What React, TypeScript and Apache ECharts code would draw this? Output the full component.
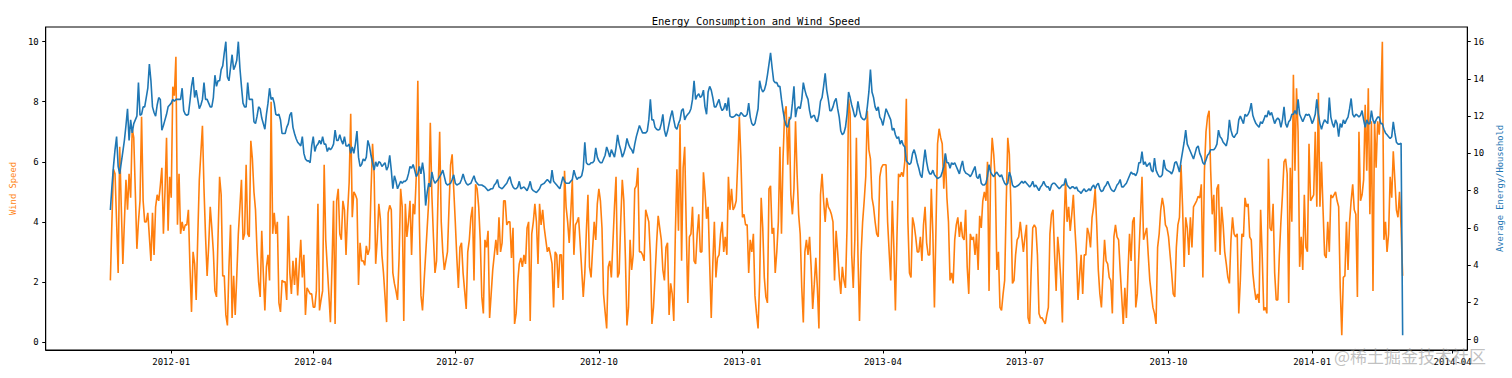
import React, { useEffect, useRef } from "react";
import * as echarts from "echarts";

// Daily observations starting at this date (one value per day)
const START_DATE = "2011-11-23";

// x tick labels (quarter starts)
const X_TICK_LABELS = [
  "2012-01", "2012-04", "2012-07", "2012-10",
  "2013-01", "2013-04", "2013-07", "2013-10",
  "2014-01", "2014-04",
];

const WIND_TICKS = [0, 2, 4, 6, 8, 10];
const ENERGY_TICKS = [0, 2, 4, 6, 8, 10, 12, 14, 16];

// Wind speed (left axis), daily
const WIND_SPEED = [
  2.05, 4.0, 5.75, 5.6, 4.0, 2.3, 6.5, 4.5, 2.6, 4.0,
  5.4, 4.4, 5.6, 4.8, 7.1, 6.8, 5.0, 3.1, 4.0, 4.7,
  7.5, 4.7, 4.0, 4.0, 4.3, 3.5, 2.7, 4.3, 2.9, 4.5,
  4.9, 4.7, 5.2, 5.8, 3.6, 5.0, 6.8, 3.7, 5.5, 4.8,
  8.5, 8.2, 9.5, 3.9, 5.6, 3.6, 4.0, 3.7, 3.9, 3.9,
  4.4, 2.5, 1.0, 3.0, 2.6, 1.4, 3.5, 5.4, 6.3, 7.2,
  5.1, 3.5, 2.2, 3.2, 4.5, 3.8, 3.0, 1.7, 1.5, 3.5,
  5.5, 4.9, 2.2, 2.2, 0.9, 0.55, 2.5, 3.9, 0.8, 2.2,
  0.9, 2.2, 3.6, 4.5, 5.4, 3.4, 3.6, 5.9, 3.6, 3.5,
  6.7, 6.1, 5.0, 4.4, 3.0, 2.0, 1.5, 3.7, 2.3, 1.05,
  2.5, 2.9, 2.05, 8.0, 3.6, 4.3, 3.6, 4.0, 1.3, 1.0,
  2.05, 2.0, 2.0, 1.4, 4.2, 2.3, 1.6, 2.7, 1.9, 2.8,
  1.55, 2.5, 3.4, 2.15, 2.9, 0.9, 1.8, 1.7, 1.6, 1.6,
  1.16, 1.16, 1.7, 4.6, 1.05, 1.4, 1.7, 5.9, 3.4, 2.5,
  1.6, 0.66, 2.5, 4.7, 0.6, 4.7, 5.1, 3.6, 3.4, 4.7,
  4.4, 2.9, 4.3, 5.3, 7.6, 4.15, 5.0, 4.9, 4.75, 1.9,
  3.3, 2.7, 2.7, 2.55, 3.2, 2.9, 3.1, 5.0, 6.6, 5.6,
  2.6, 3.4, 4.6, 4.1, 2.9, 2.3, 1.5, 0.66, 4.3, 4.55,
  4.4, 2.3, 1.95, 1.7, 1.4, 2.8, 5.1, 4.5, 0.7, 4.6,
  3.5, 4.0, 4.7, 2.9, 4.6, 4.25, 5.5, 8.7, 4.0, 1.55,
  1.05, 2.0, 2.9, 3.8, 4.7, 7.3, 4.9, 3.5, 2.3, 2.7,
  5.0, 7.0, 4.0, 3.0, 2.4, 2.7, 3.0, 4.5, 5.9, 6.25,
  5.1, 4.0, 2.8, 1.8, 3.15, 3.3, 2.3, 1.7, 1.1, 3.0,
  3.4, 4.15, 4.5, 2.05, 5.25, 5.1, 4.5, 3.4, 1.5, 0.95,
  3.4, 3.15, 3.7, 0.8, 1.6, 2.4, 2.9, 3.4, 2.9, 4.15,
  3.0, 3.3, 4.7, 4.7, 3.9, 4.0, 4.0, 2.8, 3.8, 0.6,
  0.95, 2.0, 2.6, 2.8, 2.5, 2.9, 2.6, 3.8, 4.0, 0.7,
  3.6, 4.0, 4.6, 4.0, 2.6, 4.6, 3.9, 4.4, 3.8, 3.4,
  3.0, 3.15, 2.9, 2.6, 1.15, 3.0, 2.9, 1.8, 2.9, 2.9,
  1.4, 5.7, 4.5, 4.0, 3.3, 4.3, 5.4, 2.9, 3.9, 4.0,
  4.15, 3.3, 2.4, 1.5, 2.3, 3.7, 4.9, 2.5, 2.15, 3.1,
  4.0, 3.4, 4.6, 5.1, 4.7, 3.8, 1.6, 1.0, 0.45, 2.5,
  2.7, 2.15, 3.3, 4.5, 5.5, 2.15, 2.3, 4.0, 5.4, 4.7,
  2.8, 0.55, 1.15, 3.4, 2.4, 2.9, 5.1, 5.2, 5.8, 3.0,
  3.0, 2.9, 2.7, 4.4, 4.2, 4.0, 2.9, 0.6, 1.15, 2.2,
  3.3, 4.2, 3.8, 3.4, 2.4, 2.05, 3.15, 3.3, 0.9, 1.95,
  1.6, 0.7, 3.6, 5.75, 3.7, 7.25, 2.7, 5.8, 6.5, 3.8,
  1.3, 3.5, 3.6, 4.5, 2.7, 2.6, 3.6, 4.25, 3.0, 3.0,
  5.65, 5.0, 4.1, 4.5, 2.6, 0.8, 2.6, 4.0, 2.15, 2.8,
  2.9, 3.6, 4.0, 3.0, 3.5, 2.9, 5.5, 4.4, 5.1, 4.4,
  4.5, 4.7, 6.0, 7.5, 6.1, 4.15, 4.25, 3.9, 3.9, 2.3,
  3.4, 3.0, 3.6, 1.55, 0.95, 0.45, 2.0, 4.8, 3.8, 2.15,
  1.5, 1.3, 5.1, 5.2, 3.6, 3.8, 2.3, 3.0, 4.0, 6.5,
  3.6, 6.1, 7.6, 7.85, 5.9, 7.5, 4.9, 4.25, 5.1, 7.35,
  5.6, 4.25, 3.6, 1.8, 0.65, 3.0, 3.4, 2.9, 3.5, 2.5,
  1.1, 1.9, 2.8, 1.8, 0.45, 4.9, 5.6, 4.7, 4.0, 4.8,
  4.5, 4.4, 4.25, 4.0, 2.05, 3.7, 3.0, 2.2, 1.6, 2.5,
  2.05, 1.8, 3.8, 8.1, 7.6, 2.9, 1.8, 3.4, 6.8, 2.9,
  0.7, 2.9, 4.0, 4.7, 5.5, 7.7, 6.4, 6.1, 4.8, 4.5,
  4.0, 3.6, 3.5, 5.5, 5.8, 5.9, 5.9, 5.9, 4.0, 3.0,
  2.05, 4.7, 3.15, 1.05, 3.5, 5.6, 5.5, 5.65, 5.5, 6.0,
  8.1, 4.0, 2.3, 2.15, 4.15, 3.9, 3.5, 3.0, 3.0, 3.5,
  2.7, 3.9, 4.5, 3.3, 2.9, 2.9, 5.1, 3.6, 1.15, 3.8,
  6.6, 7.1, 6.8, 6.6, 5.1, 6.25, 4.8, 4.0, 2.05, 2.3,
  1.95, 3.4, 3.9, 4.15, 3.5, 4.0, 3.5, 3.4, 4.4, 2.5,
  1.6, 3.6, 3.4, 3.5, 2.9, 3.6, 2.4, 4.2, 3.8, 4.7,
  5.0, 4.7, 6.0, 1.7, 5.6, 6.8, 6.25, 5.4, 2.4, 3.0,
  1.15, 1.05, 1.6, 2.05, 4.6, 6.8, 6.25, 4.5, 1.95, 2.05,
  2.9, 3.4, 3.5, 4.0, 3.5, 3.0, 3.5, 3.9, 0.8, 0.6,
  2.4, 3.8, 3.9, 3.8, 2.9, 0.95, 0.8, 0.8, 0.7, 0.6,
  0.9, 1.15, 3.6, 4.25, 4.4, 2.9, 1.7, 3.5, 2.9, 2.05,
  0.65, 3.8, 5.4, 4.0, 4.5, 3.7, 4.25, 4.9, 3.8, 2.9,
  1.4, 2.2, 2.9, 1.6, 2.9, 2.9, 3.8, 3.6, 3.15, 4.15,
  4.5, 5.1, 3.9, 2.4, 1.6, 1.15, 2.3, 3.4, 2.7, 2.6,
  2.15, 2.05, 0.95, 3.5, 3.9, 3.5, 3.4, 2.4, 1.5, 0.6,
  1.8, 0.8, 2.3, 3.6, 2.7, 4.0, 4.15, 1.15, 1.6, 2.9,
  4.15, 5.5, 3.4, 3.6, 3.8, 2.9, 2.05, 1.6, 1.15, 0.95,
  0.6, 3.15, 3.6, 4.4, 4.8, 4.5, 3.9, 3.8, 3.5, 2.9,
  2.3, 1.6, 1.5, 3.15, 3.9, 4.15, 5.9, 4.5, 2.5, 4.15,
  3.8, 2.9, 4.15, 3.15, 4.5, 4.6, 4.7, 4.85, 4.8, 5.25,
  2.15, 5.7, 7.0, 7.5, 7.7, 5.7, 4.25, 4.9, 3.0, 5.1,
  5.25, 2.9, 4.5, 3.9, 3.0, 2.6, 2.15, 1.95, 3.4, 4.15,
  3.6, 3.5, 3.6, 0.95, 2.05, 3.6, 3.5, 4.8, 4.5, 4.6,
  3.5, 3.4, 2.3, 1.8, 1.4, 1.6, 1.3, 4.4, 2.9, 1.05,
  1.15, 0.95, 6.1, 3.8, 3.7, 4.6, 2.3, 1.4, 1.4, 2.9,
  4.0, 4.9, 6.0, 6.1, 5.6, 1.3, 5.8, 4.0, 8.9, 5.7,
  8.45, 7.0, 2.5, 3.5, 2.4, 4.9, 3.15, 3.0, 6.6, 4.7,
  4.8, 4.9, 7.0, 4.5, 8.3, 4.5, 6.0, 4.4, 2.9, 2.8,
  4.0, 3.0, 4.9, 4.8, 4.9, 5.0, 4.7, 4.5, 1.8, 0.22,
  2.15, 2.2, 4.0, 2.4, 4.0, 4.7, 5.25, 4.4, 4.25, 1.5,
  7.0, 4.7, 4.9, 5.4, 7.9, 5.7, 8.45, 4.25, 7.35, 1.7,
  7.35, 5.8, 7.35, 6.9, 8.0, 10.0, 3.4, 4.0, 3.0, 3.6,
  5.5, 4.8, 6.35, 5.4, 4.4, 4.15, 5.0, 3.8, 2.2,
];

// Average energy per household (right axis), daily
const ENERGY = [
  6.96, 8.2, 9.3, 10.2, 10.9, 9.3, 8.9, 9.5, 10.1, 10.7,
  11.5, 12.4, 10.7, 11.8, 11.1, 11.6, 11.8, 12.0, 13.8, 12.05,
  12.1, 12.5, 12.5, 13.0, 13.5, 14.8, 13.9, 12.5, 12.2, 12.0,
  12.6, 13.0, 12.9, 11.25, 11.5, 11.8, 12.1, 12.5, 12.6, 12.7,
  12.9, 12.8, 12.9, 12.9, 12.9, 12.9, 13.5, 12.3, 12.1, 12.05,
  12.1, 12.8, 13.6, 14.1, 13.0, 13.4, 12.9, 12.4, 12.6, 12.9,
  13.8, 12.9, 12.9, 12.7, 12.5, 12.5, 13.0, 14.2, 13.6, 13.9,
  13.9, 14.5, 14.7, 15.4, 16.0, 14.1, 13.9, 14.6, 15.3, 14.5,
  14.7, 15.0, 16.0, 14.6, 13.6, 12.7, 12.5, 12.5, 13.8, 12.9,
  12.9, 12.9, 11.7, 11.6, 12.0, 12.5, 12.4, 11.9, 11.6, 11.3,
  12.1, 12.7, 13.5, 12.9, 13.0, 12.7, 12.1, 12.05, 12.1, 11.8,
  11.07, 11.07, 11.07, 11.4, 11.6, 12.05, 12.2, 11.4, 11.07, 10.8,
  10.6, 10.5, 10.4, 10.9, 10.0, 9.7, 9.6, 9.6, 9.5, 10.4,
  10.9, 10.1, 10.4, 10.5, 10.7, 10.5, 10.9, 10.5, 10.5, 10.1,
  10.3, 10.2, 10.3, 10.5, 11.25, 10.7, 10.7, 11.0, 10.7, 10.5,
  10.9, 10.4, 10.4, 10.5, 10.0, 10.35, 10.0, 10.5, 11.2, 9.8,
  9.3, 9.4, 9.7, 9.6, 9.8, 10.7, 10.4, 9.9, 9.5, 9.1,
  9.55, 9.3, 9.55, 9.5, 9.3, 9.4, 9.5, 9.1, 9.3, 9.9,
  9.1, 8.1, 8.8, 8.5, 8.1, 8.3, 8.5, 8.4, 8.5, 8.5,
  8.6, 8.9, 9.3, 9.2, 9.4, 9.1, 8.75, 8.9, 9.3, 8.9,
  9.5, 8.9, 7.2, 7.9, 8.4, 8.2, 9.0, 8.6, 8.4, 8.5,
  8.6, 8.75, 8.9, 9.1, 8.75, 8.4, 8.3, 8.35, 8.4, 8.6,
  8.85, 8.4, 8.3, 8.35, 8.4, 8.6, 8.9, 8.6, 8.4, 8.3,
  8.35, 8.4, 8.6, 8.8, 8.5, 8.4, 8.3, 8.3, 8.3, 8.25,
  8.2, 8.1, 8.0, 8.05, 8.1, 8.1, 8.3, 8.4, 8.6, 8.2,
  8.15, 8.1, 8.2, 8.3, 8.4, 8.6, 8.75, 8.4, 8.2, 8.1,
  8.1, 8.2, 8.5, 8.1, 8.15, 8.2, 8.1, 8.0, 8.2, 8.5,
  8.1, 8.0, 7.95, 7.9, 8.0, 8.1, 8.3, 8.35, 8.4, 8.5,
  8.6, 8.5, 8.4, 9.1, 8.5, 8.4, 8.3, 8.2, 8.1, 8.4,
  8.75, 8.5, 8.4, 8.4, 8.4, 8.5, 8.6, 9.1, 8.8, 8.6,
  8.7, 8.7, 8.8, 9.2, 10.6, 9.5, 9.4, 9.4, 9.5, 9.5,
  9.6, 10.3, 9.8, 9.6, 9.5, 9.5, 9.7, 9.9, 10.35, 10.1,
  9.8, 10.2, 10.0, 9.8, 10.3, 11.0, 10.5, 10.2, 9.8, 10.0,
  10.3, 10.8, 10.5, 10.3, 10.2, 10.0, 10.5, 10.9, 11.2, 11.5,
  11.3, 11.1, 11.1, 11.1, 11.2, 11.8, 12.9, 11.8, 11.8, 11.4,
  11.3, 11.25, 11.3, 11.6, 12.1, 11.25, 10.9, 11.2, 11.6, 12.0,
  12.3, 11.8, 11.4, 11.3, 11.6, 11.8, 12.3, 12.4, 11.8, 12.0,
  12.1, 12.2, 12.4, 12.9, 13.9, 12.9, 13.1, 13.2, 13.0, 13.1,
  13.4, 12.5, 12.1, 13.3, 13.6, 13.4, 13.0, 12.5, 12.5, 12.7,
  12.9, 12.5, 12.3, 12.4, 12.7, 12.3, 13.0, 12.0, 11.95, 11.95,
  12.0, 12.1, 12.05, 12.0, 12.2, 12.1, 12.0, 12.0, 12.1, 12.7,
  11.95, 11.6, 11.5, 11.6, 12.0, 12.4, 13.9, 13.5, 13.3, 13.4,
  13.7, 14.2, 14.8, 15.4, 14.6, 13.9, 13.8, 13.8, 13.6, 13.6,
  12.9, 12.3, 11.8, 11.5, 11.4, 11.8, 11.9, 12.7, 13.6, 11.95,
  12.4, 12.5, 12.4, 12.9, 13.8, 13.4, 13.1, 12.9, 12.3, 11.9,
  12.0, 12.05, 11.8, 11.7, 12.1, 12.8, 13.0, 13.6, 14.3, 13.4,
  12.9, 12.3, 12.3, 12.5, 12.8, 12.95, 12.4, 11.95, 11.2, 11.0,
  11.1, 11.4, 12.1, 13.3, 13.0, 12.6, 12.3, 11.95, 12.1, 12.8,
  12.3, 11.95, 11.85, 11.8, 11.9, 12.5, 13.3, 14.5, 13.3, 13.0,
  12.5, 12.3, 12.5, 11.95, 11.8, 11.5, 11.95, 12.4, 12.2, 12.0,
  11.8, 11.25, 11.35, 11.0, 10.8, 10.9, 10.5, 10.7, 10.45, 10.35,
  9.6, 9.5, 9.4, 9.5, 10.0, 10.2, 9.9, 9.5, 9.2, 8.85,
  8.7, 9.5, 10.2, 9.55, 9.1, 8.9, 8.9, 9.1, 8.85, 8.75,
  8.65, 8.7, 8.75, 9.0, 9.3, 10.0, 9.5, 9.5, 9.2, 9.5,
  9.4, 9.5, 9.3, 9.1, 8.9, 9.3, 9.6, 9.1, 8.95, 8.9,
  8.85, 8.75, 8.9, 9.1, 9.3, 8.75, 8.65, 8.9, 8.4, 8.3,
  8.3, 8.4, 8.75, 9.4, 9.0, 8.85, 8.75, 8.9, 9.0, 8.85,
  8.75, 8.85, 8.6, 8.4, 8.3, 8.4, 9.0, 8.75, 8.3, 8.2,
  8.2, 8.25, 8.3, 8.4, 8.5, 8.4, 8.5, 8.4, 8.3, 8.2,
  8.3, 8.5, 8.2, 8.3, 8.15, 8.0, 8.2, 8.3, 8.5, 8.3,
  8.2, 8.2, 8.0, 8.3, 8.4, 8.4, 8.3, 8.2, 8.1, 8.2,
  8.3, 8.3, 8.65, 8.3, 8.2, 8.1, 8.2, 8.2, 8.1, 8.2,
  8.0, 7.95, 7.85, 8.0, 8.1, 7.95, 8.0, 8.1, 8.0, 8.2,
  8.3, 8.1, 8.3, 8.4, 8.1, 7.95, 8.0, 8.2, 8.3, 8.5,
  8.3, 8.1, 8.0, 7.95, 8.1, 8.3, 8.4, 8.6, 8.2, 8.2,
  8.3, 8.4, 8.6, 8.8, 9.0, 8.9, 8.9, 8.8, 9.0, 9.5,
  9.5, 10.1, 9.4, 9.55, 9.3, 9.4, 9.5, 9.1, 9.0, 9.75,
  9.1, 8.9, 8.75, 8.75, 8.85, 9.65, 9.2, 9.1, 9.05, 9.0,
  8.9, 9.1, 9.5, 9.55, 9.3, 9.0, 9.6, 10.1, 10.6, 11.25,
  10.5, 10.3, 10.1, 9.9, 9.7, 10.0, 10.3, 10.4, 10.0, 9.8,
  9.5, 9.4, 9.65, 9.9, 10.0, 10.2, 10.2, 10.2, 10.3, 10.5,
  11.25, 10.9, 10.8, 10.6, 10.5, 10.4, 10.8, 11.8, 11.25, 10.95,
  10.85, 11.0, 11.1, 11.8, 12.0, 11.8, 11.6, 12.1, 12.0, 12.1,
  12.3, 12.7, 12.05, 11.8, 11.6, 11.5, 11.4, 11.7, 11.6, 11.8,
  12.05, 11.95, 12.3, 12.05, 12.2, 11.9, 11.6, 11.8, 11.9, 11.8,
  11.4, 11.8, 12.5, 11.6, 11.4, 11.7, 11.8, 12.1, 12.1, 12.3,
  12.1, 12.9, 12.1, 11.9, 11.7, 11.9, 12.1, 12.05, 12.1, 11.9,
  11.6, 11.8, 12.1, 12.9, 12.1, 11.6, 11.3, 11.6, 11.8, 11.7,
  11.6, 13.0, 11.95, 11.6, 11.4, 11.8, 11.6, 10.9, 11.6, 11.4,
  11.8, 11.6, 11.8, 11.95, 12.4, 12.95, 12.1, 11.95, 12.1, 12.05,
  11.95, 12.05, 12.3, 11.8, 11.4, 11.8, 11.6, 11.6, 12.3, 11.8,
  11.6, 11.8, 11.95, 11.95, 11.6, 11.6, 11.3, 11.1, 11.0, 10.9,
  10.8, 10.9, 11.7, 11.1, 10.6, 10.5, 10.5, 10.55, 0.23,
];

const DAY_MS = 86400000;
const FONT = "'DejaVu Sans Mono', 'Liberation Mono', monospace";

function parseUTC(s: string): number {
  const [y, m, d] = s.split("-").map(Number);
  return Date.UTC(y, m - 1, d || 1);
}

export default function App() {
  const ref = useRef<HTMLDivElement>(null);

  useEffect(() => {
    if (!ref.current) return;
    const chart = echarts.init(ref.current, null, { renderer: "svg" });
    const start = parseUTC(START_DATE);
    const dayOf = (label: string) => Math.round((parseUTC(label) - start) / DAY_MS);
    const xTicks = X_TICK_LABELS.map(dayOf);
    const n = WIND_SPEED.length;
    const xPad = 0.05 * (n - 1);

    const range = (arr: number[]) => {
      const lo = Math.min(...arr);
      const hi = Math.max(...arr);
      const p = 0.05 * (hi - lo);
      return [lo - p, hi + p];
    };
    const [wMin, wMax] = range(WIND_SPEED);
    const [eMin, eMax] = range(ENERGY);

    const fmtDay = (v: number) => {
      const d = new Date(start + Math.round(v) * DAY_MS);
      const y = d.getUTCFullYear();
      const m = String(d.getUTCMonth() + 1).padStart(2, "0");
      return `${y}-${m}`;
    };

    const tickStyle = { color: "#000", width: 1 };
    const labelBase = { color: "#000", fontFamily: FONT, fontSize: 9 };

    const option: any = {
      animation: false,
      backgroundColor: "#ffffff",
      title: {
        text: "Energy Consumption and Wind Speed",
        left: "center",
        top: 9,
        textStyle: {
          fontFamily: FONT,
          fontSize: 10.5,
          fontWeight: "normal",
          color: "#000",
          lineHeight: 13,
        },
      },
      grid: {
        left: 42,
        top: 27,
        width: 1427,
        height: 323,
        show: true,
        borderColor: "#000",
        borderWidth: 1,
        backgroundColor: "transparent",
        containLabel: false,
      },
      xAxis: {
        type: "value",
        min: -xPad,
        max: n - 1 + xPad,
        axisLine: { show: true, onZero: false, lineStyle: tickStyle },
        axisTick: { show: true, customValues: xTicks, length: 3.5, lineStyle: tickStyle },
        axisLabel: {
          ...labelBase,
          customValues: xTicks,
          formatter: (v: number) => fmtDay(v),
          margin: 7,
        },
        splitLine: { show: false },
      },
      yAxis: [
        {
          type: "value",
          position: "left",
          min: wMin,
          max: wMax,
          axisLine: { show: true, onZero: false, lineStyle: tickStyle },
          axisTick: { show: true, customValues: WIND_TICKS, length: 3.5, lineStyle: tickStyle },
          axisLabel: { ...labelBase, customValues: WIND_TICKS, margin: 7 },
          splitLine: { show: false },
          name: "Wind Speed",
          nameLocation: "middle",
          nameRotate: 90,
          nameGap: 24,
          nameTextStyle: { color: "#ff7f0e", fontFamily: FONT, fontSize: 8.8 },
        },
        {
          type: "value",
          position: "right",
          min: eMin,
          max: eMax,
          axisLine: { show: true, onZero: false, lineStyle: tickStyle },
          axisTick: { show: true, customValues: ENERGY_TICKS, length: 3.5, lineStyle: tickStyle },
          axisLabel: { ...labelBase, customValues: ENERGY_TICKS, margin: 6 },
          splitLine: { show: false },
          name: "Average Energy/Household",
          nameLocation: "middle",
          nameRotate: 90,
          nameGap: 19,
          nameTextStyle: { color: "#1f77b4", fontFamily: FONT, fontSize: 8.8 },
        },
      ],
      series: [
        {
          name: "Wind Speed",
          type: "line",
          yAxisIndex: 0,
          data: WIND_SPEED.map((v, i) => [i, v]),
          showSymbol: false,
          symbol: "none",
          lineStyle: { color: "#ff7f0e", width: 1.6 },
          itemStyle: { color: "#ff7f0e" },
          z: 2,
        },
        {
          name: "Average Energy/Household",
          type: "line",
          yAxisIndex: 1,
          data: ENERGY.map((v, i) => [i, v]),
          showSymbol: false,
          symbol: "none",
          lineStyle: { color: "#1f77b4", width: 1.6 },
          itemStyle: { color: "#1f77b4" },
          z: 3,
        },
      ],
      graphic: [
        {
          type: "text",
          left: 1334,
          top: 347,
          z: 100,
          style: {
            text: "@稀土掘金技术社区",
            fontFamily: "'Noto Sans CJK SC', sans-serif",
            fontSize: 17,
            fill: "rgba(140,140,140,0.55)",
          },
        },
      ],
    };

    chart.setOption(option);
    return () => chart.dispose();
  }, []);

  return (
    <div
      ref={ref}
      style={{
        position: "fixed",
        left: 0,
        top: 0,
        width: 1512,
        height: 378,
        background: "#fff",
      }}
    />
  );
}
